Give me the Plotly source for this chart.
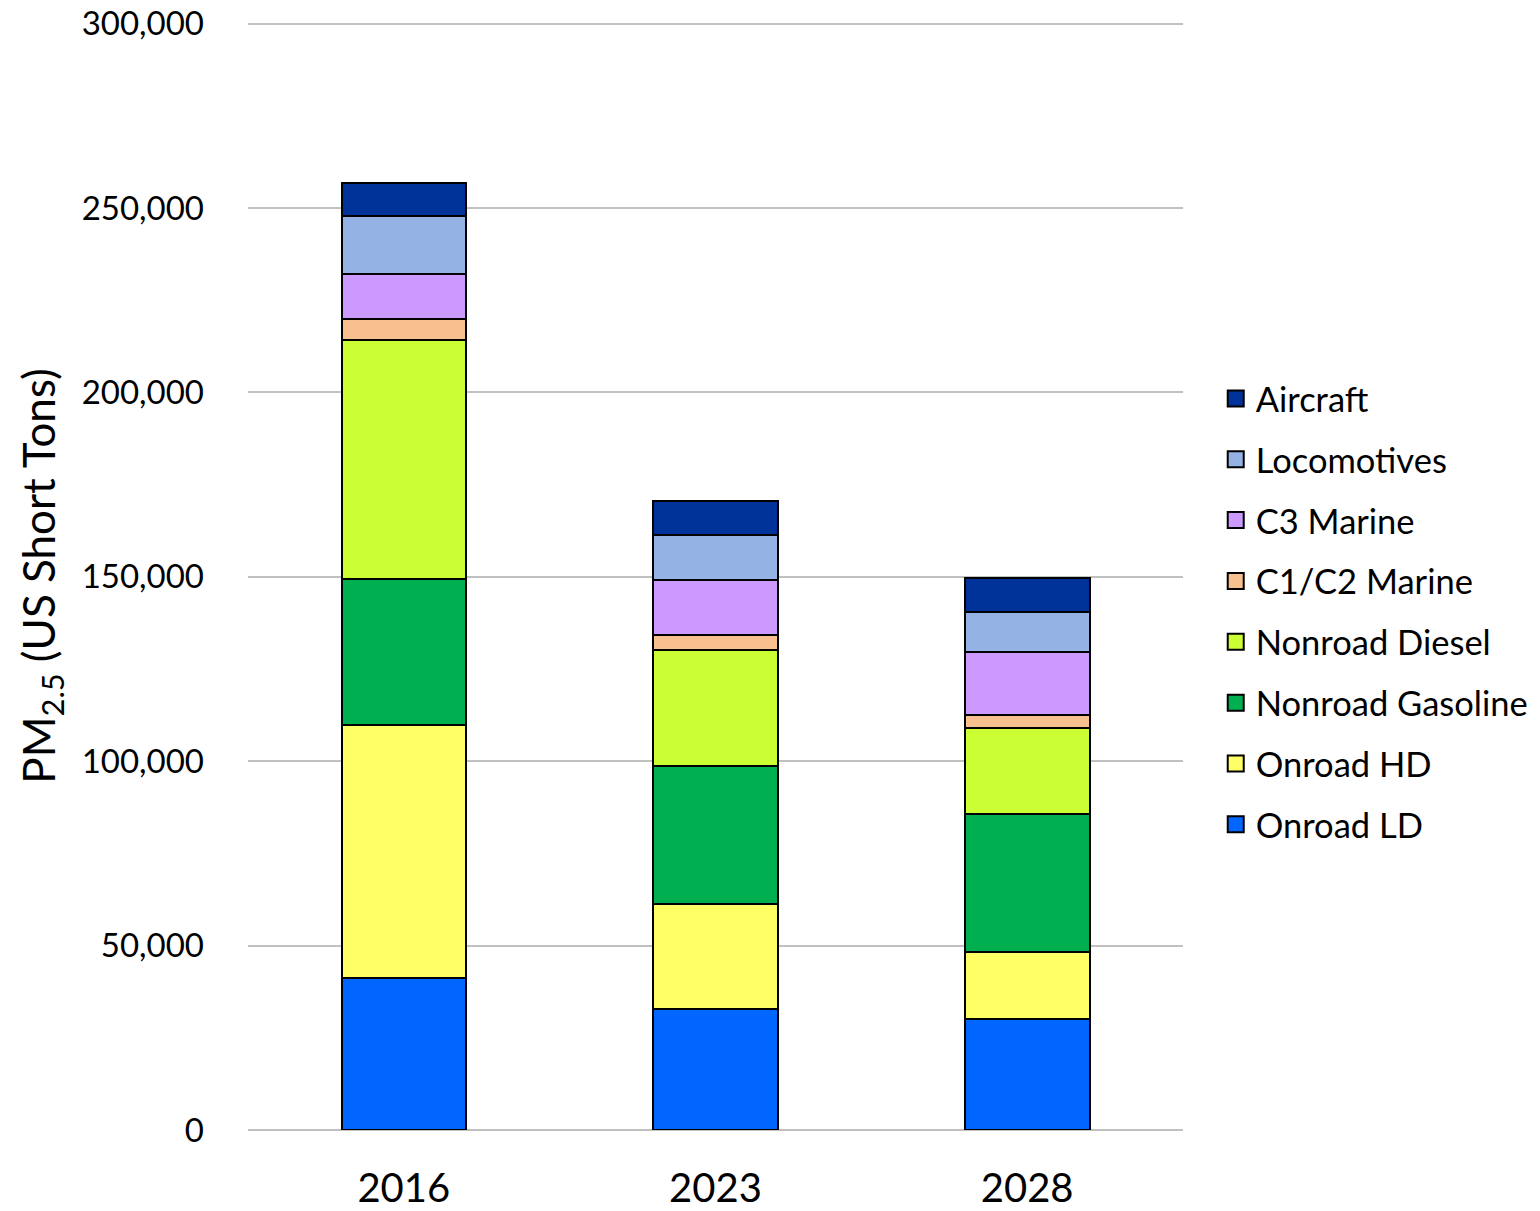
import plotly.graph_objects as go

years = ["2016", "2023", "2028"]
series_names = ["Onroad LD", "Onroad HD", "Nonroad Gasoline", "Nonroad Diesel",
                "C1/C2 Marine", "C3 Marine", "Locomotives", "Aircraft"]
onroad_ld = [41200, 32800, 30100]
onroad_hd = [68700, 28400, 18100]
nonroad_gasoline = [39600, 37600, 37600]
nonroad_diesel = [64800, 31400, 23300]
c1c2_marine = [5700, 4100, 3300]
c3_marine = [12200, 14900, 17300]
locomotives = [15700, 12200, 10800]
aircraft = [8900, 9200, 9200]
colors = ["#0066FF", "#FFFF66", "#00B050", "#CCFF33",
          "#F9C08F", "#CC99FF", "#95B2E5", "#003399"]
y_ticks = [0, 50000, 100000, 150000, 200000, 250000, 300000]

values = [onroad_ld, onroad_hd, nonroad_gasoline, nonroad_diesel,
          c1c2_marine, c3_marine, locomotives, aircraft]

FONT = "Lato, Calibri, Carlito, sans-serif"
fig = go.Figure()
for name, vals, col in zip(series_names, values, colors):
    fig.add_trace(go.Bar(
        x=years, y=vals, name=name, marker_color=col,
        marker_line_color="black", marker_line_width=2,
        width=0.4, showlegend=False,
    ))
for name, col in reversed(list(zip(series_names, colors))):
    fig.add_trace(go.Scatter(
        x=[None], y=[None], mode="markers", name=name, legendgroup=name,
        marker=dict(symbol="square", size=22, color=col,
                    line=dict(color="black", width=2)),
    ))

fig.update_layout(
    barmode="stack",
    width=1540, height=1211,
    margin=dict(l=248, r=357, t=22, b=81, autoexpand=False),
    plot_bgcolor="white", paper_bgcolor="white",
    font=dict(family=FONT, size=32, color="black"),
    legend=dict(x=1.035, xanchor="left", y=0.468, yanchor="middle",
                traceorder="grouped", tracegroupgap=13,
                font=dict(size=34.5), itemsizing="trace"),
    xaxis=dict(type="category", showgrid=False, tickfont=dict(size=40),
               ticks="", ticklabelstandoff=31, showline=False,
               automargin=False),
    yaxis=dict(range=[0, 300450], tickvals=y_ticks, tickformat=",",
               showgrid=True, gridcolor="#C0C0C0", gridwidth=2,
               zeroline=True, zerolinecolor="#C0C0C0", zerolinewidth=2,
               ticks="", ticklabelstandoff=43, tickfont=dict(size=33),
               automargin=False,
               title=dict(text="PM<sub>2.5</sub> (US Short Tons)",
                          font=dict(size=44), standoff=12)),
)

fig.write_html("out.html")
